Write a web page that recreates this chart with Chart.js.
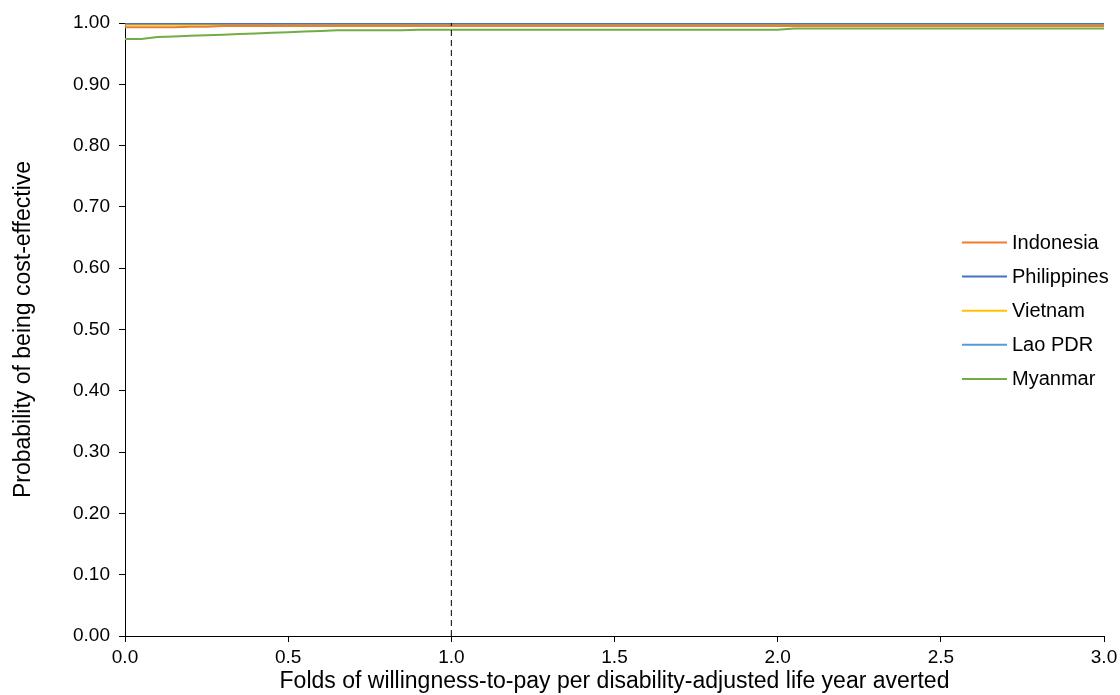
<!DOCTYPE html>
<html>
<head>
<meta charset="utf-8">
<script src="https://cdn.jsdelivr.net/npm/chart.js@4/dist/chart.umd.min.js"></script>
<style>
  html, body { margin: 0; padding: 0; background: #fff; }
  #wrap { width: 1120px; height: 695px; }
</style>
</head>
<body>
<div id="wrap"><canvas id="myChart" width="1120" height="695"></canvas></div>
<script>
// folds of WTP per DALY averted (x axis)
const wtpFolds = [
    0.00, 0.05, 0.10, 0.15, 0.20, 0.25, 0.30, 0.35, 0.40, 0.45,
    0.50, 0.55, 0.60, 0.65, 0.70, 0.75, 0.80, 0.85, 0.90, 0.95,
    1.00, 1.05, 1.10, 1.15, 1.20, 1.25, 1.30, 1.35, 1.40, 1.45,
    1.50, 1.55, 1.60, 1.65, 1.70, 1.75, 1.80, 1.85, 1.90, 1.95,
    2.00, 2.05, 2.10, 2.15, 2.20, 2.25, 2.30, 2.35, 2.40, 2.45,
    2.50, 2.55, 2.60, 2.65, 2.70, 2.75, 2.80, 2.85, 2.90, 2.95,
    3.00
];

// probability of being cost-effective per country
const indonesia = [
    0.993, 0.993, 0.993, 0.993, 0.994, 0.994, 0.995, 0.995, 0.995, 0.995,
    0.995, 0.995, 0.995, 0.995, 0.995, 0.995, 0.995, 0.995, 0.995, 0.995,
    0.995, 0.995, 0.995, 0.995, 0.995, 0.995, 0.995, 0.995, 0.995, 0.995,
    0.995, 0.995, 0.995, 0.995, 0.995, 0.995, 0.995, 0.995, 0.995, 0.995,
    0.995, 0.995, 0.995, 0.995, 0.995, 0.995, 0.995, 0.995, 0.995, 0.995,
    0.995, 0.995, 0.995, 0.995, 0.995, 0.995, 0.995, 0.995, 0.995, 0.995,
    0.995
];
const philippines = [
    0.999, 0.999, 0.999, 0.999, 0.999, 0.999, 0.999, 0.999, 0.999, 0.999,
    0.999, 0.999, 0.999, 0.999, 0.999, 0.999, 0.999, 0.999, 0.999, 0.999,
    0.999, 0.999, 0.999, 0.999, 0.999, 0.999, 0.999, 0.999, 0.999, 0.999,
    0.999, 0.999, 0.999, 0.999, 0.999, 0.999, 0.999, 0.999, 0.999, 0.999,
    0.999, 0.999, 0.999, 0.999, 0.999, 0.999, 0.999, 0.999, 0.999, 0.999,
    0.999, 0.999, 0.999, 0.999, 0.999, 0.999, 0.999, 0.999, 0.999, 0.999,
    0.999
];
const vietnam = [
    0.997, 0.997, 0.997, 0.997, 0.997, 0.997, 0.997, 0.997, 0.997, 0.997,
    0.997, 0.997, 0.997, 0.997, 0.997, 0.997, 0.997, 0.997, 0.997, 0.997,
    0.997, 0.997, 0.997, 0.997, 0.997, 0.997, 0.997, 0.997, 0.997, 0.997,
    0.997, 0.997, 0.997, 0.997, 0.997, 0.997, 0.997, 0.997, 0.997, 0.997,
    0.997, 0.997, 0.997, 0.997, 0.997, 0.997, 0.997, 0.997, 0.997, 0.997,
    0.997, 0.997, 0.997, 0.997, 0.997, 0.997, 0.997, 0.997, 0.997, 0.997,
    0.997
];
const laoPdr = [
    1.000, 1.000, 1.000, 1.000, 1.000, 1.000, 1.000, 1.000, 1.000, 1.000,
    1.000, 1.000, 1.000, 1.000, 1.000, 1.000, 1.000, 1.000, 1.000, 1.000,
    1.000, 1.000, 1.000, 1.000, 1.000, 1.000, 1.000, 1.000, 1.000, 1.000,
    1.000, 1.000, 1.000, 1.000, 1.000, 1.000, 1.000, 1.000, 1.000, 1.000,
    1.000, 1.000, 1.000, 1.000, 1.000, 1.000, 1.000, 1.000, 1.000, 1.000,
    1.000, 1.000, 1.000, 1.000, 1.000, 1.000, 1.000, 1.000, 1.000, 1.000,
    1.000
];
const myanmar = [
    0.974, 0.974, 0.977, 0.978, 0.979, 0.980, 0.981, 0.982, 0.983, 0.984,
    0.985, 0.986, 0.987, 0.988, 0.988, 0.988, 0.988, 0.988, 0.989, 0.989,
    0.989, 0.989, 0.989, 0.989, 0.989, 0.989, 0.989, 0.989, 0.989, 0.989,
    0.989, 0.989, 0.989, 0.989, 0.989, 0.989, 0.989, 0.989, 0.989, 0.989,
    0.989, 0.991, 0.991, 0.991, 0.991, 0.991, 0.991, 0.991, 0.991, 0.991,
    0.991, 0.991, 0.991, 0.991, 0.991, 0.991, 0.991, 0.991, 0.991, 0.991,
    0.991
];

// threshold: 1x WTP
const thresholdFold = 1.0;

const xTicks = [0, 0.5, 1, 1.5, 2, 2.5, 3];
const yTicks = [0, 0.1, 0.2, 0.3, 0.4, 0.5, 0.6, 0.7, 0.8, 0.9, 1.0];

const countries = [
    { label: 'Indonesia', values: indonesia, color: '#ED7D31' },
    { label: 'Philippines', values: philippines, color: '#4472C4' },
    { label: 'Vietnam', values: vietnam, color: '#FFC000' },
    { label: 'Lao PDR', values: laoPdr, color: '#5B9BD5' },
    { label: 'Myanmar', values: myanmar, color: '#70AD47' }
];

const FONT = '"Liberation Sans", Arial, Helvetica, sans-serif';
Chart.defaults.font.family = FONT;
Chart.defaults.color = '#000';

// legend drawn inside the plot, right side
const sideLegend = {
    id: 'sideLegend',
    afterDraw(chart) {
        const ctx = chart.ctx;
        ctx.save();
        ctx.font = '20px ' + FONT;
        ctx.textBaseline = 'middle';
        ctx.textAlign = 'left';
        let row = 0;
        chart.data.datasets.forEach(function (ds) {
            if (ds.noLegend) return;
            const y = 242.5 + row * 34.1;
            ctx.strokeStyle = ds.borderColor;
            ctx.lineWidth = 2;
            ctx.beginPath();
            ctx.moveTo(962, y);
            ctx.lineTo(1007, y);
            ctx.stroke();
            ctx.fillStyle = '#000';
            ctx.fillText(ds.label, 1012, y + 1);
            row++;
        });
        ctx.restore();
    }
};

const datasets = countries.map(function (c) {
    return {
        label: c.label,
        data: wtpFolds.map(function (f, i) { return { x: f, y: c.values[i] }; }),
        borderColor: c.color,
        backgroundColor: c.color,
        borderWidth: 2,
        pointRadius: 0,
        tension: 0,
        fill: false
    };
});
// dashed vertical line at the threshold
datasets.push({
    label: 'threshold',
    noLegend: true,
    data: [{ x: thresholdFold, y: 0 }, { x: thresholdFold, y: 1 }],
    borderColor: '#000',
    borderWidth: 1,
    borderDash: [6, 4],
    pointRadius: 0,
    fill: false,
    order: -1
});

const ctx = document.getElementById('myChart').getContext('2d');
window.myChart = new Chart(ctx, {
    type: 'line',
    data: { datasets: datasets },
    options: {
        responsive: false,
        animation: false,
        layout: { padding: { left: 4, top: 23, right: 16, bottom: 0 } },
        plugins: {
            legend: { display: false },
            tooltip: { enabled: false }
        },
        scales: {
            x: {
                type: 'linear',
                min: 0,
                max: 3,
                afterBuildTicks: function (scale) {
                    scale.ticks = xTicks.map(function (v) { return { value: v }; });
                },
                afterFit: function (scale) {
                    scale.height = 59;
                    scale.paddingLeft = 0;
                    scale.paddingRight = 0;
                },
                ticks: {
                    font: { size: 19 },
                    color: '#000',
                    padding: 4,
                    maxRotation: 0,
                    callback: function (v) { return Number(v).toFixed(1); }
                },
                grid: { drawOnChartArea: false, drawTicks: true, tickLength: 6, color: '#000' },
                border: { color: '#000', width: 1 },
                title: {
                    display: true,
                    text: 'Folds of willingness-to-pay per disability-adjusted life year averted',
                    font: { size: 23 },
                    color: '#000',
                    padding: { top: 0, bottom: 0 }
                }
            },
            y: {
                min: 0,
                max: 1,
                afterBuildTicks: function (scale) {
                    scale.ticks = yTicks.map(function (v) { return { value: v }; });
                },
                afterFit: function (scale) {
                    scale.width = 121;
                    scale.paddingTop = 0;
                    scale.paddingBottom = 0;
                },
                ticks: {
                    font: { size: 19 },
                    color: '#000',
                    padding: 9,
                    callback: function (v) { return Number(v).toFixed(2); }
                },
                grid: { drawOnChartArea: false, drawTicks: true, tickLength: 6, color: '#000' },
                border: { color: '#000', width: 1 },
                title: {
                    display: true,
                    text: 'Probability of being cost-effective',
                    font: { size: 23 },
                    color: '#000',
                    padding: { top: 6, bottom: 0 }
                }
            }
        }
    },
    plugins: [sideLegend]
});
</script>
</body>
</html>
